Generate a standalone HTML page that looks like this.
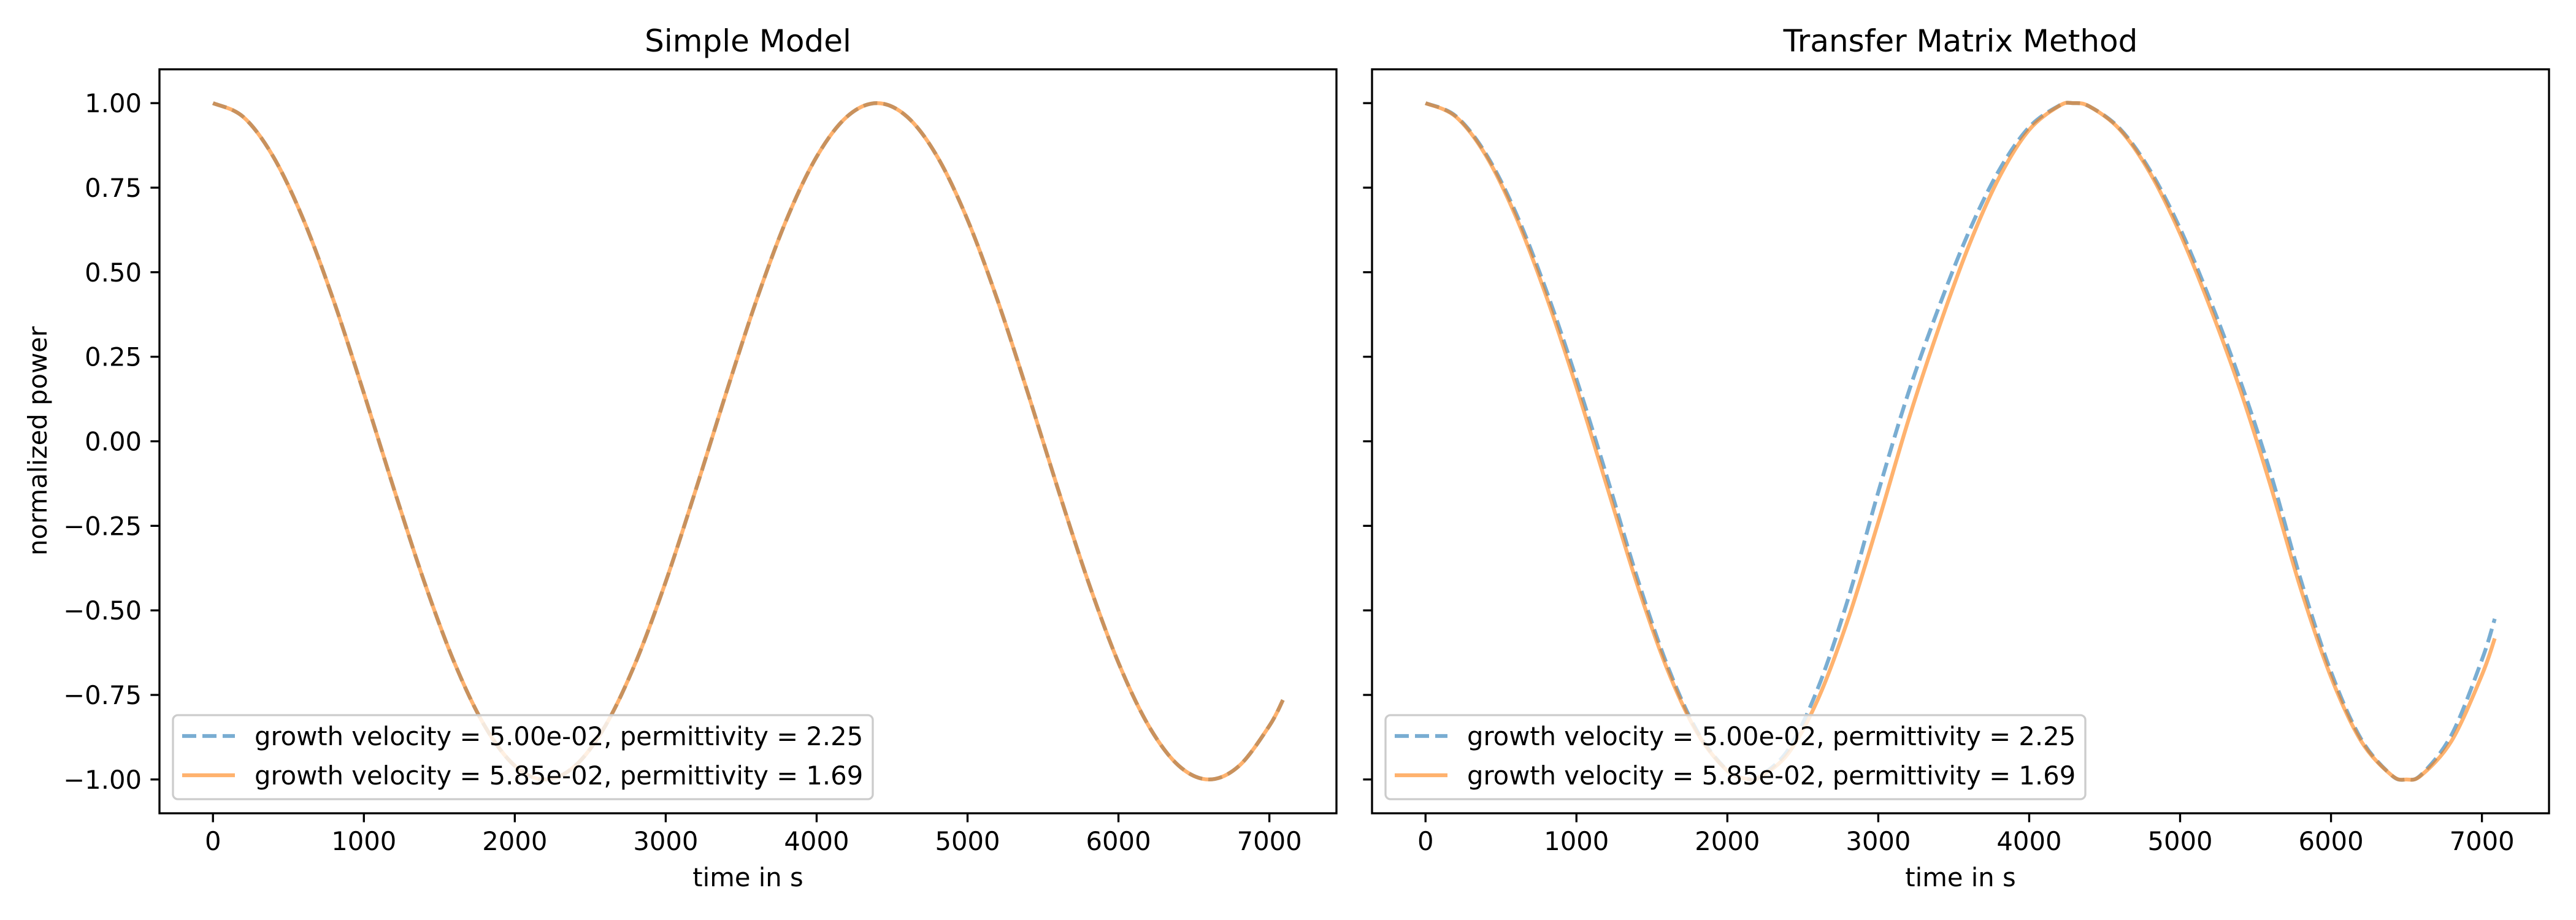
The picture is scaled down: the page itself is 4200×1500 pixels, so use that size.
<!DOCTYPE html>
<html><head><meta charset="utf-8"><style>
html,body{margin:0;padding:0;background:#fff}
svg{display:block;font-family:"DejaVu Sans","Liberation Sans",sans-serif}
</style></head><body>
<svg id="fig" width="4200" height="1500" viewBox="0 0 4200 1500" xmlns="http://www.w3.org/2000/svg"></svg>
<script>
const xTicks = [0,1000,2000,3000,4000,5000,6000,7000];
const yTicks = [1.00,0.75,0.50,0.25,0.00,-0.25,-0.50,-0.75,-1.00];
const yTickLabels = ["1.00","0.75","0.50","0.25","0.00","\u22120.25","\u22120.50","\u22120.75","\u22121.00"];
const seriesLabels = ["growth velocity = 5.00e-02, permittivity = 2.25","growth velocity = 5.85e-02, permittivity = 1.69"];

const simpleTime = [0,200,400,600,800,1000,1200,1400,1600,1800,2000,2200,2400,2600,2800,3000,3200,3400,3600,3800,4000,4200,4400,4600,4800,5000,5200,5400,5600,5800,6000,6200,6400,6600,6800,7000,7090];
const simpleBlue = [1.0,0.9595,0.8413,0.6549,0.4154,0.1423,-0.1423,-0.4154,-0.6549,-0.8413,-0.9595,-1.0,-0.9595,-0.8413,-0.6549,-0.4154,-0.1423,0.1423,0.4154,0.6549,0.8413,0.9595,1.0,0.9595,0.8413,0.6549,0.4154,0.1423,-0.1423,-0.4154,-0.6549,-0.8413,-0.9595,-1.0,-0.9595,-0.8413,-0.765];
const simpleOrange = [1.0,0.9595,0.8413,0.6549,0.4154,0.1423,-0.1423,-0.4154,-0.6549,-0.8413,-0.9595,-1.0,-0.9595,-0.8413,-0.6549,-0.4154,-0.1423,0.1423,0.4154,0.6549,0.8413,0.9595,1.0,0.9595,0.8413,0.6549,0.4154,0.1423,-0.1423,-0.4154,-0.6549,-0.8413,-0.9595,-1.0,-0.9595,-0.8413,-0.765];

const tmmTime = [0,200,400,600,800,1000,1200,1400,1600,1800,2000,2150,2200,2400,2600,2800,3000,3200,3400,3600,3800,4000,4200,4290,4400,4600,4800,5000,5200,5400,5600,5800,6000,6200,6400,6500,6600,6800,7000,7085];
const tmmBlue = [1.0,0.962,0.850,0.674,0.446,0.184,-0.102,-0.400,-0.660,-0.857,-0.973,-1.0,-0.996,-0.914,-0.730,-0.466,-0.150,0.144,0.395,0.619,0.801,0.929,0.993,1.0,0.990,0.925,0.802,0.629,0.416,0.177,-0.095,-0.410,-0.682,-0.881,-0.987,-1.0,-0.985,-0.867,-0.646,-0.525];
const tmmOrange = [1.0,0.960,0.845,0.663,0.429,0.160,-0.130,-0.420,-0.672,-0.862,-0.974,-1.0,-0.997,-0.925,-0.763,-0.526,-0.239,0.063,0.334,0.578,0.779,0.921,0.992,1.0,0.990,0.922,0.794,0.614,0.395,0.150,-0.132,-0.437,-0.697,-0.887,-0.987,-1.0,-0.987,-0.885,-0.691,-0.583];

const NS = "http://www.w3.org/2000/svg";
const fig = document.getElementById('fig');
function mk(tag, attrs, parent){const e=document.createElementNS(NS,tag);for(const k in attrs)e.setAttribute(k,attrs[k]);(parent||fig).appendChild(e);return e;}

const XMIN=-354.5, XMAX=7444.5, YMIN=-1.1, YMAX=1.1;
const TOP=113, BOT=1326, W=1919;
const BLUE="#1f77b4", ORANGE="#ff7f0e";

function pathFrom(xs, ys, sx, sy){
  const P = xs.map((x,i)=>[sx(x), sy(ys[i])]);
  let d = "M"+P[0][0].toFixed(2)+","+P[0][1].toFixed(2);
  for(let i=0;i<P.length-1;i++){
    const p0=P[Math.max(0,i-1)], p1=P[i], p2=P[i+1], p3=P[Math.min(P.length-1,i+2)];
    const c1=[p1[0]+(p2[0]-p0[0])/6, p1[1]+(p2[1]-p0[1])/6];
    const c2=[p2[0]-(p3[0]-p1[0])/6, p2[1]-(p3[1]-p1[1])/6];
    d+=" C"+c1[0].toFixed(2)+","+c1[1].toFixed(2)+" "+c2[0].toFixed(2)+","+c2[1].toFixed(2)+" "+p2[0].toFixed(2)+","+p2[1].toFixed(2);
  }
  return d;
}

function panel(left, title, times, blue, orange, showYLabels, key){
  const g = mk('g',{});
  
  
  const sx = v => left + (v-XMIN)/(XMAX-XMIN)*W;
  const sy = v => BOT - (v-YMIN)/(YMAX-YMIN)*(BOT-TOP);
  const clipId = key+'-clip';
  const cp = mk('clipPath',{id:clipId},g);
  mk('rect',{x:left,y:TOP,width:W,height:BOT-TOP},cp);

  const pb = mk('path',{d:pathFrom(times,blue,sx,sy),fill:'none',stroke:BLUE,'stroke-opacity':0.6,'stroke-width':6.25,'stroke-dasharray':'23 10','clip-path':'url(#'+clipId+')'},g);
  
  
  const po = mk('path',{d:pathFrom(times,orange,sx,sy),fill:'none',stroke:ORANGE,'stroke-opacity':0.6,'stroke-width':6.25,'clip-path':'url(#'+clipId+')'},g);
  
  

  const fr = mk('rect',{x:left,y:TOP,width:W,height:BOT-TOP,fill:'none',stroke:'#000','stroke-width':3.33},g);
  
  

  xTicks.forEach((t)=>{
    const x=sx(t);
    mk('line',{x1:x,x2:x,y1:BOT,y2:BOT+14.6,stroke:'#000','stroke-width':3.33},g);
    const tx=mk('text',{x:x,y:BOT+60,'font-size':41.7,'text-anchor':'middle',fill:'#000'},g);
    tx.textContent=String(t);
    
    
  });
  yTicks.forEach((t,i)=>{
    const y=sy(t);
    mk('line',{x1:left-14.6,x2:left,y1:y,y2:y,stroke:'#000','stroke-width':3.33},g);
    if(showYLabels){
      const ty=mk('text',{x:left-29,y:y+15,'font-size':41.7,'text-anchor':'end',fill:'#000'},g);
      ty.textContent=yTickLabels[i];
      
      
    }
  });
  const tt=mk('text',{x:left+W/2,y:84,'font-size':50,'text-anchor':'middle',fill:'#000'},g);
  tt.textContent=title;
  
  
  const xl=mk('text',{x:left+W/2,y:1445,'font-size':41.7,'text-anchor':'middle',fill:'#000'},g);
  xl.textContent='time in s';
  
  

  // legend
  const lg = mk('g',{},g);
  
  
  const lx = left+22;
  mk('rect',{x:lx,y:1166,width:1141,height:137,rx:8,fill:'#fff','fill-opacity':0.8,stroke:'#cccccc','stroke-width':3.33},lg);
  mk('line',{x1:lx+15,x2:lx+101,y1:1200,y2:1200,stroke:BLUE,'stroke-opacity':0.6,'stroke-width':6.25,'stroke-dasharray':'23 10'},lg);
  mk('line',{x1:lx+15,x2:lx+101,y1:1264,y2:1264,stroke:ORANGE,'stroke-opacity':0.6,'stroke-width':6.25},lg);
  [1200,1264].forEach((y,i)=>{
    const t=mk('text',{x:lx+133,y:y+15,'font-size':41.7,fill:'#000'},lg);
    t.textContent=seriesLabels[i];
    
    
  });
}

panel(260,'Simple Model',simpleTime,simpleBlue,simpleOrange,true,'simple-model');
panel(2237,'Transfer Matrix Method',tmmTime,tmmBlue,tmmOrange,false,'transfer-matrix');

const yl=mk('text',{x:0,y:0,'font-size':41.7,'text-anchor':'middle',fill:'#000',transform:'translate(76,719) rotate(-90)'});
yl.textContent='normalized power';


</script>
</body></html>
